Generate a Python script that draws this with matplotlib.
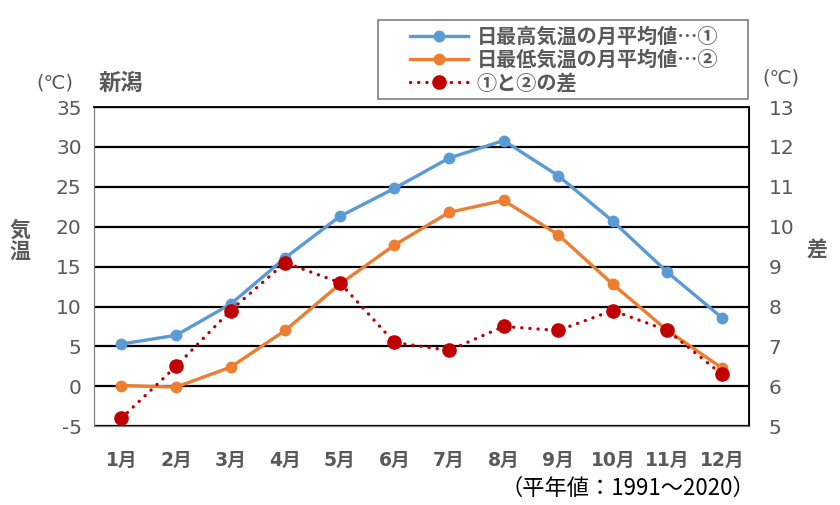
import matplotlib
matplotlib.use("Agg")
import matplotlib.pyplot as plt
from matplotlib.lines import Line2D
from matplotlib.patches import Rectangle

plt.rcParams["font.family"] = ["DejaVu Sans", "Noto Sans CJK JP"]
plt.rcParams["axes.unicode_minus"] = False

months = ["1月", "2月", "3月", "4月", "5月", "6月", "7月", "8月", "9月", "10月", "11月", "12月"]
t_high = [5.3, 6.4, 10.3, 16.1, 21.3, 24.8, 28.6, 30.8, 26.4, 20.7, 14.3, 8.6]
t_low = [0.1, -0.1, 2.4, 7.0, 12.8, 17.7, 21.8, 23.3, 19.0, 12.8, 7.0, 2.3]
t_diff = [5.2, 6.5, 7.9, 9.1, 8.6, 7.1, 6.9, 7.5, 7.4, 7.9, 7.4, 6.3]

label_high = "日最高気温の月平均値…①"
label_low = "日最低気温の月平均値…②"
label_diff = "①と②の差"

BLUE = "#5B9BD5"
ORANGE = "#ED7D31"
RED = "#C00000"
GRAY = "#595959"
DOTS = (0, (0.05, 2.4))

fig = plt.figure(figsize=(8.4, 5.05), dpi=100)
ax = fig.add_axes([0.112, 0.156, 0.780, 0.632])
ax2 = ax.twinx()

x = range(len(months))
ax.plot(x, t_high, color=BLUE, lw=2.4, marker="o", ms=7.5, zorder=4)
ax.plot(x, t_low, color=ORANGE, lw=2.4, marker="o", ms=7.5, zorder=4)
ax2.plot(x, t_diff, color=RED, lw=2.4, ls=DOTS, dash_capstyle="round",
         marker="o", ms=9.5, zorder=5)

ax.set_xlim(-0.5, len(months) - 0.5)
ax.set_ylim(-5, 35)
ax.set_yticks(range(-5, 36, 5))
ax2.set_ylim(5, 13)
ax2.set_yticks(range(5, 14))
ax.set_xticks(list(x))
ax.set_xticklabels(months, fontweight="bold", fontsize=13.5)

for a in (ax, ax2):
    a.tick_params(axis="y", length=0, labelsize=14.5, labelcolor=GRAY)
ax.tick_params(axis="x", length=0, labelcolor=GRAY, pad=18)
ax.tick_params(axis="y", pad=9)
ax2.tick_params(axis="y", pad=14)

ax.yaxis.grid(True, color="black", lw=1.6)
ax.set_axisbelow(True)
for s in ("left", "bottom"):
    ax.spines[s].set_color("#7f7f7f")
    ax2.spines[s].set_color("#7f7f7f")
for s in ("top", "right"):
    ax2.spines[s].set_color("black")
    ax2.spines[s].set_linewidth(1.3)

cjk = ["Noto Sans CJK JP", "DejaVu Sans"]
fig.text(0.043, 0.835, "(℃)", fontsize=14, color=GRAY, ha="left", va="center")
fig.text(0.117, 0.835, "新潟", fontsize=16, fontweight="bold", color=GRAY,
         ha="left", va="center", family=cjk)
fig.text(0.908, 0.845, "(℃)", fontsize=14, color=GRAY, ha="left", va="center")
fig.text(0.024, 0.523, "気\n温", fontsize=15, fontweight="bold", color=GRAY,
         ha="center", va="center", linespacing=1.0, family=cjk)
fig.text(0.972, 0.505, "差", fontsize=15, fontweight="bold", color=GRAY,
         ha="center", va="center", family=cjk)
fig.text(0.899, 0.032, "（平年値：1991～2020）", fontsize=16, color="black",
         ha="right", va="center", family=cjk)

# legend box drawn separately so the entries sit inset like the original
fig.patches.append(Rectangle((0.45, 0.804), 0.4405, 0.156, transform=fig.transFigure,
                             fill=False, edgecolor="#7f7f7f", lw=1.2))
handles = [
    Line2D([], [], color=BLUE, lw=2.4, marker="o", ms=7.5),
    Line2D([], [], color=ORANGE, lw=2.4, marker="o", ms=7.5),
    Line2D([], [], color=RED, lw=2.4, ls=DOTS, dash_capstyle="round",
           marker="o", ms=9.5),
]
leg = fig.legend(handles, [label_high, label_low, label_diff],
                 loc="center left", bbox_to_anchor=(0.488, 0.882), frameon=False,
                 handlelength=2.9, borderpad=0, labelspacing=0.12,
                 handletextpad=0.4, borderaxespad=0,
                 prop={"family": cjk, "size": 14.5, "weight": "bold"})
for t in leg.get_texts():
    t.set_color(GRAY)

fig.savefig("out.png", dpi=100)
